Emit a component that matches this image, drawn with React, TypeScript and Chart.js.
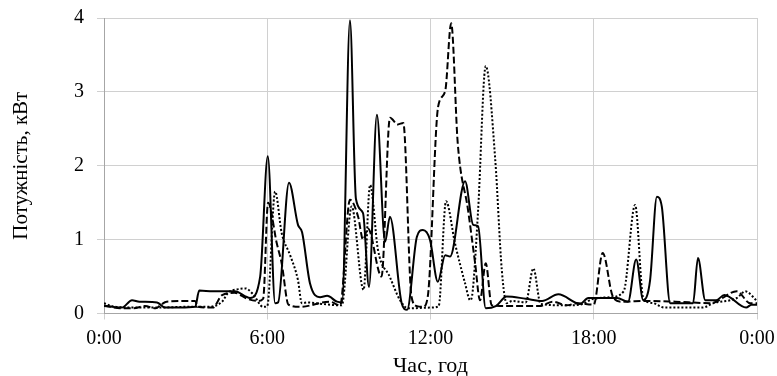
import React, { useEffect, useRef } from "react";
import { Chart, registerables } from "chart.js";

Chart.register(...registerables);

// Hours of the day and power values (kW)
const solidT = [0, 0.3, 0.66, 1.03, 1.3, 1.95, 2.24, 2.8, 3.35, 3.5, 4.0, 4.55, 4.8, 5.37, 5.74, 6.02, 6.29, 6.4, 6.8, 7.13, 7.28, 7.57, 7.94, 8.2, 8.56, 8.75, 9.04, 9.26, 9.52, 9.74, 10.03, 10.33, 10.51, 10.94, 11.14, 11.5, 11.72, 11.98, 12.27, 12.54, 12.72, 13.27, 13.57, 13.75, 14.03, 14.4, 14.8, 15.5, 16.1, 16.7, 17.5, 17.8, 18.86, 19.26, 19.56, 19.82, 20.07, 20.32, 20.5, 20.81, 21.65, 21.83, 22.1, 22.5, 22.8, 23.6, 23.8, 24];
const solidV = [0.1, 0.09, 0.08, 0.18, 0.16, 0.15, 0.08, 0.08, 0.09, 0.31, 0.3, 0.3, 0.3, 0.21, 0.5, 2.13, 0.14, 0.15, 1.77, 1.2, 1.1, 0.41, 0.22, 0.24, 0.16, 0.15, 3.97, 1.55, 1.36, 0.36, 2.69, 0.97, 1.31, 0.14, 0.05, 1.04, 1.13, 1.0, 0.43, 0.79, 0.77, 1.79, 1.2, 1.18, 0.07, 0.1, 0.23, 0.2, 0.17, 0.26, 0.13, 0.21, 0.21, 0.16, 0.73, 0.18, 0.45, 1.58, 1.45, 0.14, 0.14, 0.75, 0.18, 0.18, 0.25, 0.08, 0.12, 0.12];

const dashedT = [0, 0.6, 1.07, 1.5, 1.9, 2.1, 2.3, 3.35, 3.45, 4.0, 4.34, 4.8, 5.26, 5.67, 5.85, 6.03, 6.35, 6.53, 6.78, 7.2, 8.3, 8.68, 9.04, 9.34, 9.52, 9.7, 10.2, 10.51, 10.8, 11.0, 11.3, 11.5, 11.72, 11.9, 12.28, 12.54, 12.76, 13.0, 13.38, 13.64, 13.82, 14.03, 14.25, 15.0, 16.0, 16.5, 17.0, 17.4, 18.0, 18.33, 18.7, 19.0, 20.0, 21.0, 22.3, 23.26, 23.75, 24];
const dashedV = [0.11, 0.07, 0.07, 0.1, 0.07, 0.12, 0.16, 0.17, 0.09, 0.08, 0.25, 0.28, 0.2, 0.17, 0.2, 1.5, 0.95, 0.68, 0.12, 0.09, 0.16, 0.11, 1.54, 1.31, 1.0, 1.15, 0.5, 2.65, 2.56, 2.58, 0.23, 0.1, 0.09, 0.23, 2.8, 3.01, 3.93, 2.31, 1.4, 0.68, 0.18, 0.68, 0.11, 0.1, 0.1, 0.16, 0.11, 0.14, 0.12, 0.82, 0.23, 0.16, 0.17, 0.16, 0.14, 0.3, 0.14, 0.14];

const dottedT = [0, 0.3, 1.0, 2.0, 3.0, 3.8, 4.34, 4.56, 4.93, 5.2, 5.48, 5.85, 6.0, 6.29, 6.53, 6.84, 7.13, 7.27, 7.5, 8.0, 8.74, 9.1, 9.54, 9.78, 10.07, 10.5, 10.88, 11.18, 12.0, 12.3, 12.57, 12.9, 13.27, 13.46, 13.55, 13.75, 14.03, 14.38, 14.62, 14.8, 15.0, 15.5, 15.78, 16.05, 17.0, 17.5, 18.0, 18.6, 19.1, 19.52, 19.82, 20.18, 20.6, 22.0, 22.4, 23.26, 23.57, 24];
const dottedV = [0.14, 0.1, 0.08, 0.08, 0.09, 0.09, 0.16, 0.28, 0.33, 0.34, 0.26, 0.09, 0.1, 1.65, 1.09, 0.79, 0.45, 0.14, 0.15, 0.13, 0.11, 1.45, 0.32, 1.74, 0.86, 0.5, 0.18, 0.07, 0.08, 0.1, 1.52, 0.95, 0.41, 0.18, 0.3, 1.4, 3.35, 2.08, 0.59, 0.14, 0.17, 0.15, 0.61, 0.13, 0.11, 0.12, 0.2, 0.22, 0.3, 1.47, 0.21, 0.14, 0.08, 0.08, 0.14, 0.21, 0.3, 0.17];

const xTicks = [0, 6, 12, 18, 24];
const xTickLabels = ["0:00", "6:00", "12:00", "18:00", "0:00"];
const yTitle = "Потужність, кВт";
const xTitle = "Час, год";

const FONT = "'Liberation Serif', 'Times New Roman', serif";

function pts(t: number[], v: number[]) {
  return t.map((x, i) => ({ x, y: v[i] }));
}

export default function App() {
  const ref = useRef<HTMLCanvasElement | null>(null);
  useEffect(() => {
    if (!ref.current) return;
    const common = {
      borderColor: "#000",
      borderWidth: 2,
      pointRadius: 0,
      fill: false,
      cubicInterpolationMode: "monotone" as const,
    };
    const chart = new Chart(ref.current, {
      type: "line",
      data: {
        datasets: [
          { ...common, label: "dotted", data: pts(dottedT, dottedV), borderDash: [2, 2] },
          { ...common, label: "dashed", data: pts(dashedT, dashedV), borderDash: [7, 3] },
          { ...common, label: "solid", data: pts(solidT, solidV) },
        ],
      },
      options: {
        animation: false,
        responsive: false,
        maintainAspectRatio: false,
        layout: { padding: { left: 0, right: 20, top: 18, bottom: 0 } },
        plugins: { legend: { display: false }, tooltip: { enabled: false } },
        scales: {
          x: {
            type: "linear",
            min: 0,
            max: 24,
            afterBuildTicks: (s: any) => {
              s.ticks = xTicks.map((v) => ({ value: v }));
            },
            afterFit: (s: any) => {
              s.height = 62.5;
              s.paddingLeft = 0;
              s.paddingRight = 0;
            },
            ticks: {
              callback: (v: any) => xTickLabels[xTicks.indexOf(Number(v))] ?? "",
              color: "#000",
              font: { family: FONT, size: 20 },
              padding: 7,
              maxRotation: 0,
            },
            grid: { color: "#d0d0d0", lineWidth: 1, tickLength: 6, drawTicks: true },
            border: { color: "#a6a6a6", width: 1 },
            title: {
              display: true,
              text: xTitle,
              color: "#000",
              font: { family: FONT, size: 22 },
              padding: { top: 0, bottom: -3 },
            },
          },
          y: {
            min: 0,
            max: 4,
            afterFit: (s: any) => {
              s.width = 104;
              s.paddingTop = 0;
              s.paddingBottom = 0;
            },
            ticks: {
              stepSize: 1,
              color: "#000",
              font: { family: FONT, size: 20 },
              padding: 13,
            },
            grid: { color: "#d0d0d0", lineWidth: 1, tickLength: 7 },
            border: { color: "#a6a6a6", width: 1 },
            title: {
              display: true,
              text: yTitle,
              color: "#000",
              font: { family: FONT, size: 21 },
              padding: { top: 9, bottom: 0 },
            },
          },
        },
      },
    });
    return () => chart.destroy();
  }, []);
  return (
    <div style={{ position: "fixed", left: 0, top: 0, width: 777, height: 376, background: "#fff" }}>
      <canvas ref={ref} width={777} height={376} style={{ display: "block" }} />
    </div>
  );
}
